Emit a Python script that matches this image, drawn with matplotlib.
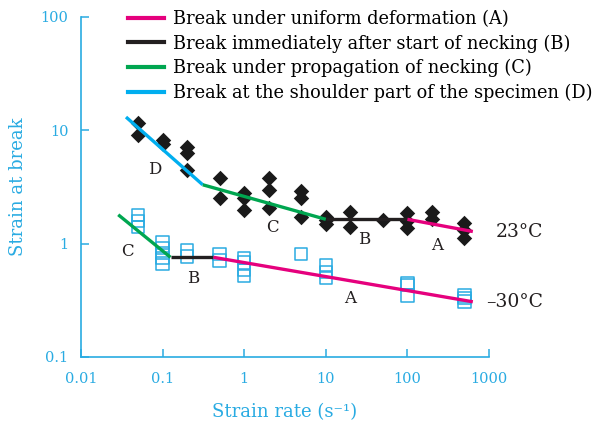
import matplotlib
matplotlib.use("Agg")
import matplotlib.pyplot as plt
from matplotlib.lines import Line2D

# ---- data -------------------------------------------------------------
# 23 °C measurements (strain rate, strain at break)
rate_23 = [0.05, 0.05, 0.1, 0.1, 0.2, 0.2, 0.2, 0.5, 0.5, 1, 1, 1,
           2, 2, 2, 5, 5, 5, 10, 10, 10, 20, 20, 50, 100, 100, 100,
           200, 200, 500, 500, 500]
strain_23 = [11.5, 9.1, 8.15, 7.5, 7.07, 6.3, 4.5, 3.8, 2.52, 2.79, 2.52, 1.99,
             3.8, 2.99, 2.08, 2.89, 2.52, 1.73, 1.73, 1.62, 1.48, 1.92, 1.41,
             1.62, 1.86, 1.57, 1.37, 1.92, 1.65, 1.52, 1.32, 1.13]

# -30 °C measurements
rate_m30 = [0.05, 0.05, 0.05, 0.1, 0.1, 0.1, 0.1, 0.1, 0.2, 0.2, 0.5, 0.5,
            1, 1, 1, 1, 5, 10, 10, 10, 100, 100, 100, 500, 500, 500]
strain_m30 = [1.78, 1.58, 1.40, 1.02, 0.92, 0.83, 0.75, 0.67, 0.87, 0.77,
              0.81, 0.71, 0.75, 0.68, 0.585, 0.52, 0.81, 0.65, 0.56, 0.50,
              0.45, 0.43, 0.35, 0.35, 0.33, 0.31]

# fitted break-mode segments: (x pair, y pair)
seg23_D = ([0.0356, 0.31], [13.1, 3.31])
seg23_C = ([0.31, 10], [3.31, 1.64])
seg23_B = ([10, 100], [1.64, 1.64])
seg23_A = ([100, 634], [1.64, 1.28])
segm30_C = ([0.0286, 0.125], [1.80, 0.758])
segm30_B = ([0.125, 0.42], [0.758, 0.758])
segm30_A = ([0.42, 634], [0.758, 0.307])

legend_labels = [
    "Break under uniform deformation (A)",
    "Break immediately after start of necking (B)",
    "Break under propagation of necking (C)",
    "Break at the shoulder part of the specimen (D)",
]
x_ticks = [0.01, 0.1, 1, 10, 100, 1000]
x_ticklabels = ["0.01", "0.1", "1", "10", "100", "1000"]
y_ticks = [0.1, 1, 10, 100]
y_ticklabels = ["0.1", "1", "10", "100"]

# ---- styling ----------------------------------------------------------
C_A = "#E5007D"
C_B = "#231F20"
C_C = "#00A650"
C_D = "#00AEEF"
AXIS = "#29ABE2"
SERIF = ["DejaVu Serif"]
plt.rcParams["font.family"] = SERIF

fig = plt.figure(figsize=(5.95, 4.21), dpi=100)
ax = fig.add_axes([81 / 595, 64 / 421, 408 / 595, 340 / 421])
ax.set_xscale("log")
ax.set_yscale("log")
ax.set_xlim(0.01, 1000)
ax.set_ylim(0.1, 100)

ax.scatter(rate_23, strain_23, marker="D", s=62, color="#1a1a1a",
           linewidths=0, zorder=3)
ax.scatter(rate_m30, strain_m30, marker="s", s=80, facecolors="none",
           edgecolors=AXIS, linewidths=1.1, zorder=3)

lw = 2.4
for seg, col in [(seg23_D, C_D), (seg23_C, C_C), (seg23_B, C_B), (seg23_A, C_A),
                 (segm30_C, C_C), (segm30_B, C_B), (segm30_A, C_A)]:
    ax.plot(seg[0], seg[1], color=col, lw=lw, solid_capstyle="butt", zorder=4)

# segment letters
letter_fs = 12
for txt, x, y in [("D", 0.08, 4.49), ("C", 2.24, 1.38), ("B", 29.9, 1.08),
                  ("A", 234, 0.97), ("C", 0.0376, 0.86), ("B", 0.235, 0.497),
                  ("A", 19.6, 0.33)]:
    ax.text(x, y, txt, fontsize=letter_fs, color="#231F20",
            ha="center", va="center", zorder=5)

# temperature labels
ax.text(1203, 1.28, "23°C", fontsize=13.5, color="#231F20",
        ha="left", va="center", clip_on=False)
ax.text(925, 0.307, "\u201330°C", fontsize=13.5, color="#231F20",
        ha="left", va="center", clip_on=False)

# axes
for side in ("top", "right"):
    ax.spines[side].set_visible(False)
for side in ("left", "bottom"):
    ax.spines[side].set_color(AXIS)
    ax.spines[side].set_linewidth(1.2)
ax.minorticks_off()
ax.set_xticks(x_ticks)
ax.set_xticklabels(x_ticklabels)
ax.set_yticks(y_ticks)
ax.set_yticklabels(y_ticklabels)
ax.tick_params(axis="both", direction="in", length=6, width=1.1,
               color=AXIS, labelcolor=AXIS, labelsize=10.5)
ax.tick_params(axis="x", pad=11)
ax.tick_params(axis="y", pad=9)

ax.set_xlabel("Strain rate (s\u207b\u00b9)", fontsize=13, color=AXIS, labelpad=12)
ax.set_ylabel("Strain at break", fontsize=13, color=AXIS, labelpad=10)

handles = [Line2D([], [], color=c, lw=3) for c in (C_A, C_B, C_C, C_D)]
ax.legend(handles, legend_labels, loc="upper left",
          bbox_to_anchor=(128 / 595, 1 - 10 / 421), bbox_transform=fig.transFigure,
          frameon=False, fontsize=12.8, handlelength=2.0, handletextpad=0.55,
          labelspacing=0.36, borderpad=0, borderaxespad=0)

fig.savefig("out.png", dpi=100)
